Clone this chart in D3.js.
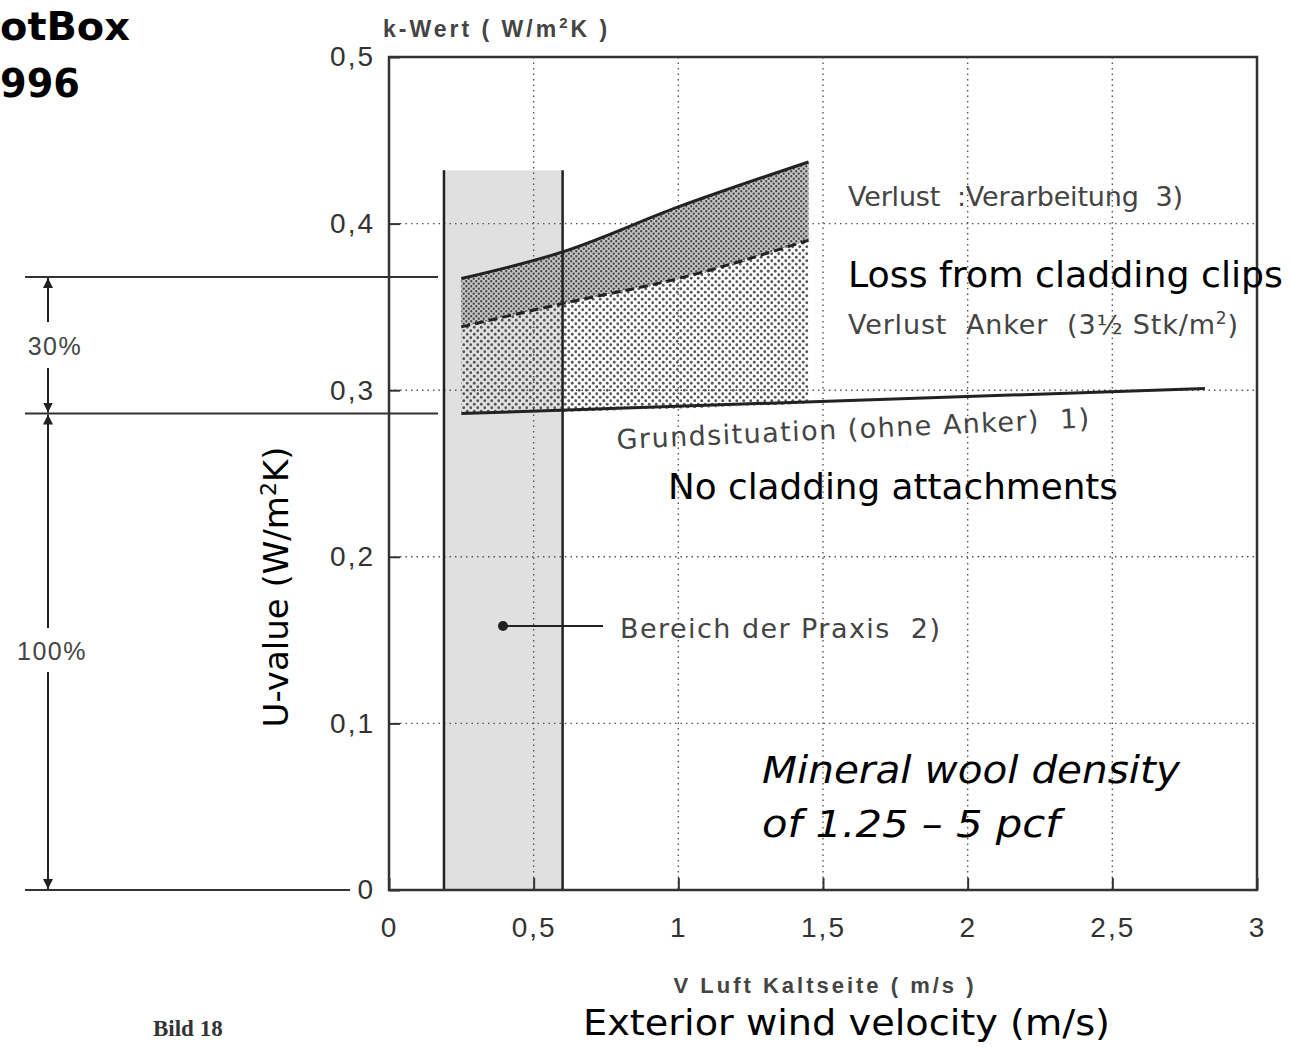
<!DOCTYPE html>
<html>
<head>
<meta charset="UTF-8">
<style>
body { margin: 0; background: white; }
svg { display: block; }
.tk text { font-family: "Liberation Sans", Arial, sans-serif; font-size: 28px; fill: #333; letter-spacing: 2px; }
.de { font-family: "DejaVu Sans", sans-serif; font-size: 27px; fill: #444; white-space: pre; }
.en { font-family: "DejaVu Sans", sans-serif; font-size: 36px; fill: #000; }
</style>
</head>
<body>
<script src="https://d3js.org/d3.v7.min.js"></script>
<script>

// data
var velocity   = [0.25, 0.6, 1.0, 1.45]          // m/s, sample points along the curves
var uProcess   = [0.367, 0.383, 0.410, 0.437]     // upper solid line (Verlust Verarbeitung)
var uAnchor    = [0.338, 0.352, 0.367, 0.390]     // dashed line (Verlust Anker)
var uBase      = [0.286, 0.287, 0.289, 0.292]     // Grundsituation under the hatched area
var baseEndV   = 2.82                              // Grundsituation line continues to here
var baseEndU   = 0.301
var practiceV  = [0.19, 0.6]                       // Bereich der Praxis
var practiceTop = 0.432
var refLevels  = [0.368, 0.286, 0]                 // dimension lines on the left
var xTicks = [0, 0.5, 1, 1.5, 2, 2.5, 3]
var yTicks = [0, 0.1, 0.2, 0.3, 0.4, 0.5]

var width = 1291, height = 1047

var svg = d3.select("body").append("svg")
    .attr("width", width)
    .attr("height", height)

var x = d3.scaleLinear().domain([0, 3]).range([389, 1257])
var y = d3.scaleLinear().domain([0, 0.5]).range([890, 57])

var defs = svg.append("defs")

// light dot screen
var p1 = defs.append("pattern").attr("id", "dotsLight")
    .attr("patternUnits", "userSpaceOnUse").attr("width", 7).attr("height", 7)
p1.append("circle").attr("cx", 1.75).attr("cy", 1.75).attr("r", 1.4).attr("fill", "#555")
p1.append("circle").attr("cx", 5.25).attr("cy", 5.25).attr("r", 1.4).attr("fill", "#555")

// denser dot screen
var p2 = defs.append("pattern").attr("id", "dotsDense")
    .attr("patternUnits", "userSpaceOnUse").attr("width", 5).attr("height", 5)
p2.append("rect").attr("width", 5).attr("height", 5).attr("fill", "#c4c4c4")
p2.append("circle").attr("cx", 1.25).attr("cy", 1.25).attr("r", 1.15).attr("fill", "#444")
p2.append("circle").attr("cx", 3.75).attr("cy", 3.75).attr("r", 1.15).attr("fill", "#444")

defs.append("marker").attr("id", "arr")
    .attr("viewBox", "0 0 10 10").attr("refX", 10).attr("refY", 5)
    .attr("markerWidth", 10).attr("markerHeight", 10)
    .attr("markerUnits", "userSpaceOnUse")
    .attr("orient", "auto")
  .append("path").attr("d", "M0,0 L10,5 L0,10 Z").attr("fill", "#222")

// practice band (fill first, border lines later)
svg.append("rect")
    .attr("x", x(practiceV[0]))
    .attr("y", y(practiceTop))
    .attr("width", x(practiceV[1]) - x(practiceV[0]))
    .attr("height", y(0) - y(practiceTop))
    .attr("fill", "#e0e0e0")

// dotted grid
svg.append("g").selectAll("line").data(xTicks.slice(1, -1)).enter().append("line")
    .attr("x1", d => x(d)).attr("x2", d => x(d))
    .attr("y1", y(0.5)).attr("y2", y(0))
    .attr("stroke", "#555").attr("stroke-width", 1.4).attr("stroke-dasharray", "1.5,4")
svg.append("g").selectAll("line").data(yTicks.slice(1, -1)).enter().append("line")
    .attr("x1", x(0)).attr("x2", x(3))
    .attr("y1", d => y(d)).attr("y2", d => y(d))
    .attr("stroke", "#555").attr("stroke-width", 1.4).attr("stroke-dasharray", "1.5,4")

var pts = velocity.map((v, i) => ({v: v, p: uProcess[i], a: uAnchor[i], b: uBase[i]}))

var areaLow = d3.area().curve(d3.curveMonotoneX)
    .x(d => x(d.v)).y0(d => y(d.b)).y1(d => y(d.a))
var areaHigh = d3.area().curve(d3.curveMonotoneX)
    .x(d => x(d.v)).y0(d => y(d.a)).y1(d => y(d.p))

svg.append("path").datum(pts).attr("d", areaLow).attr("fill", "url(#dotsLight)")
svg.append("path").datum(pts).attr("d", areaHigh).attr("fill", "url(#dotsDense)")

// band border lines
svg.append("g").selectAll("line").data(practiceV).enter().append("line")
    .attr("x1", d => x(d)).attr("x2", d => x(d))
    .attr("y1", y(practiceTop)).attr("y2", y(0))
    .attr("stroke", "#222").attr("stroke-width", 2.5)

var line = key => d3.line().curve(d3.curveMonotoneX).x(d => x(d.v)).y(d => y(d[key]))

svg.append("path").datum(pts).attr("d", line("p"))
    .attr("fill", "none").attr("stroke", "#222").attr("stroke-width", 3)
svg.append("path").datum(pts).attr("d", line("a"))
    .attr("fill", "none").attr("stroke", "#222").attr("stroke-width", 3)
    .attr("stroke-dasharray", "9,5")
svg.append("line")
    .attr("x1", x(velocity[0])).attr("y1", y(uBase[0]))
    .attr("x2", x(baseEndV)).attr("y2", y(baseEndU))
    .attr("stroke", "#222").attr("stroke-width", 3)

// frame
svg.append("rect")
    .attr("x", x(0)).attr("y", y(0.5))
    .attr("width", x(3) - x(0)).attr("height", y(0) - y(0.5))
    .attr("fill", "none").attr("stroke", "#333").attr("stroke-width", 2.5)

// axes
var fmt = d => String(d).replace(".", ",")
svg.append("g").attr("class", "tk")
    .attr("transform", "translate(" + x(0) + ",0)")
    .call(d3.axisLeft(y).tickValues(yTicks).tickFormat(fmt).tickSizeInner(-11).tickSizeOuter(0).tickPadding(14))
    .call(g => g.select(".domain").remove())
    .call(g => g.selectAll(".tick line").attr("stroke", "#333").attr("stroke-width", 2))
svg.append("g").attr("class", "tk")
    .attr("transform", "translate(0," + y(0) + ")")
    .call(d3.axisBottom(x).tickValues(xTicks).tickFormat(fmt).tickSizeInner(-12).tickSizeOuter(0).tickPadding(27))
    .call(g => g.select(".domain").remove())
    .call(g => g.selectAll(".tick line").attr("stroke", "#333").attr("stroke-width", 2))

// dimension lines on the left
svg.append("g").selectAll("line").data(refLevels).enter().append("line")
    .attr("x1", 25).attr("x2", d => d === 0 ? 350 : x(practiceV[0]) - 6)
    .attr("y1", d => y(d)).attr("y2", d => y(d))
    .attr("stroke", "#333").attr("stroke-width", 2)

var arrows = [
  [322, y(refLevels[0]) + 1], [368, y(refLevels[1]) - 1],
  [628, y(refLevels[1]) + 1], [672, y(refLevels[2]) - 1]
]
svg.append("g").selectAll("line").data(arrows).enter().append("line")
    .attr("x1", 48).attr("x2", 48)
    .attr("y1", d => d[0]).attr("y2", d => d[1])
    .attr("stroke", "#222").attr("stroke-width", 2)
    .attr("marker-end", "url(#arr)")

svg.append("text").attr("x", 55).attr("y", 355).attr("text-anchor", "middle")
    .style("font-family", "Liberation Sans, Arial").style("font-size", "25px")
    .style("fill", "#444").style("letter-spacing", "1.5px")
    .text("30%")
svg.append("text").attr("x", 52).attr("y", 660).attr("text-anchor", "middle")
    .style("font-family", "Liberation Sans, Arial").style("font-size", "25px")
    .style("fill", "#444").style("letter-spacing", "1.5px")
    .text("100%")

// German labels of the original figure
svg.append("text").attr("x", 383).attr("y", 37)
    .style("font-family", "Liberation Sans, Arial").style("font-size", "23px")
    .style("font-weight", "bold").style("fill", "#444").style("letter-spacing", "3px")
    .html('k-Wert ( W/m<tspan dy="-9" font-size="15">2</tspan><tspan dy="9">K )</tspan>')

svg.append("text").attr("x", 825).attr("y", 993).attr("text-anchor", "middle")
    .style("font-family", "Liberation Sans, Arial").style("font-size", "22px")
    .style("font-weight", "bold").style("fill", "#444").style("letter-spacing", "3px")
    .text("V Luft Kaltseite ( m/s )")

svg.append("text").attr("class", "de").attr("x", 848).attr("y", 206)
    .attr("textLength", 335).attr("lengthAdjust", "spacing")
    .text("Verlust  :Verarbeitung  3)")
svg.append("text").attr("class", "de").attr("x", 848).attr("y", 334)
    .attr("textLength", 390).attr("lengthAdjust", "spacing")
    .html('Verlust  Anker  (3½ Stk/m<tspan dy="-10" font-size="17">2</tspan><tspan dy="10">)</tspan>')
svg.append("text").attr("class", "de")
    .attr("transform", "translate(617,449) rotate(-2.6)")
    .attr("textLength", 473).attr("lengthAdjust", "spacing")
    .text("Grundsituation (ohne Anker)  1)")
svg.append("text").attr("class", "de").attr("x", 620).attr("y", 638)
    .attr("textLength", 320).attr("lengthAdjust", "spacing")
    .text("Bereich der Praxis  2)")

svg.append("circle").attr("cx", 503).attr("cy", 626).attr("r", 5).attr("fill", "#222")
svg.append("line").attr("x1", 503).attr("x2", 603).attr("y1", 626).attr("y2", 626)
    .attr("stroke", "#222").attr("stroke-width", 2)

// English overlay
svg.append("text").attr("class", "en").attr("x", 848).attr("y", 287)
    .attr("textLength", 435).attr("lengthAdjust", "spacingAndGlyphs")
    .text("Loss from cladding clips")
svg.append("text").attr("class", "en").attr("x", 668).attr("y", 499)
    .attr("textLength", 450).attr("lengthAdjust", "spacingAndGlyphs")
    .text("No cladding attachments")
svg.append("text").attr("class", "en")
    .attr("transform", "translate(288,587) rotate(-90)").attr("text-anchor", "middle")
    .style("font-size", "34px")
    .html('U-value (W/m<tspan dy="-12" font-size="22">2</tspan><tspan dy="12">K)</tspan>')
svg.append("text").attr("class", "en").attr("x", 762).attr("y", 783)
    .style("font-style", "italic").style("font-size", "37px")
    .attr("textLength", 418).attr("lengthAdjust", "spacingAndGlyphs")
    .text("Mineral wool density")
svg.append("text").attr("class", "en").attr("x", 762).attr("y", 837)
    .style("font-style", "italic").style("font-size", "37px")
    .attr("textLength", 298).attr("lengthAdjust", "spacingAndGlyphs")
    .text("of 1.25 \u2013 5 pcf")
svg.append("text").attr("class", "en").attr("x", 583).attr("y", 1035)
    .style("font-size", "35px").attr("textLength", 527).attr("lengthAdjust", "spacingAndGlyphs")
    .text("Exterior wind velocity (m/s)")

svg.append("text").attr("x", 0).attr("y", 40)
    .style("font-family", "DejaVu Sans").style("font-size", "39px").style("font-weight", "bold")
    .attr("textLength", 130).attr("lengthAdjust", "spacingAndGlyphs")
    .text("otBox")
svg.append("text").attr("x", 0).attr("y", 97)
    .style("font-family", "DejaVu Sans").style("font-size", "39px").style("font-weight", "bold")
    .attr("textLength", 80).attr("lengthAdjust", "spacingAndGlyphs")
    .text("996")

svg.append("text").attr("x", 153).attr("y", 1036)
    .style("font-family", "Liberation Serif").style("font-size", "23px").style("font-weight", "bold")
    .style("fill", "#333")
    .text("Bild 18")

</script>
</body>
</html>
